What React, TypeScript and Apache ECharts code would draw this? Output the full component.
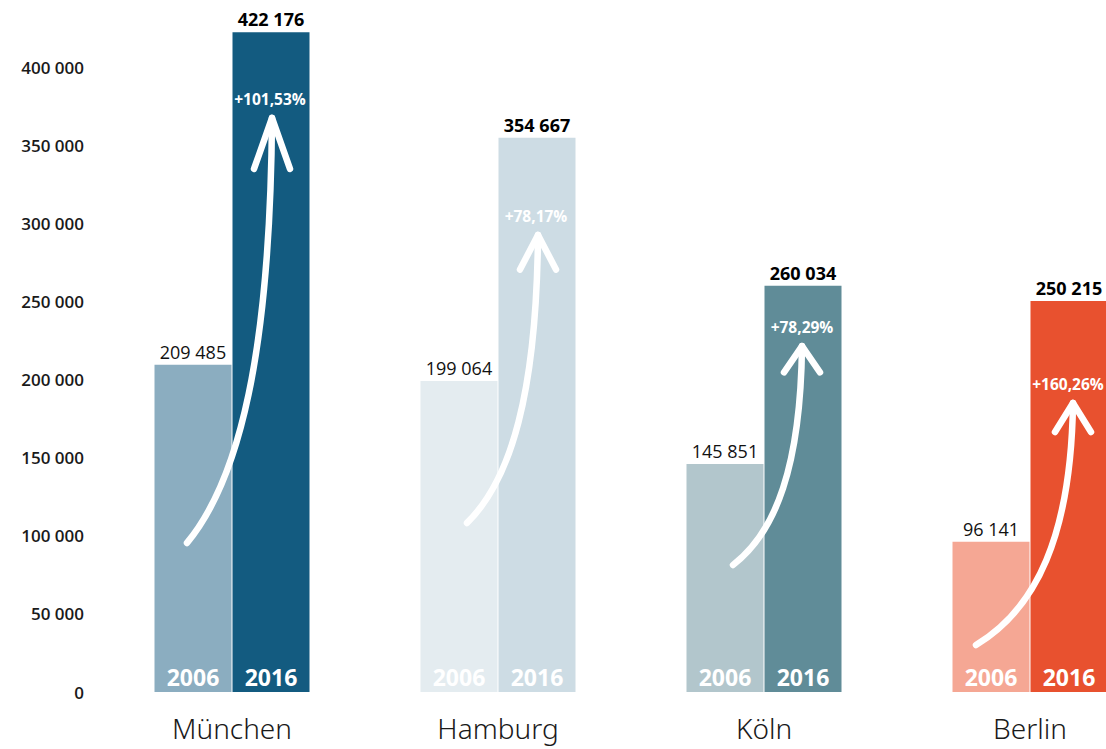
import React, { useEffect, useRef } from "react";
import * as echarts from "echarts";

const cities = ["München", "Hamburg", "Köln", "Berlin"];
const values2006 = [209485, 199064, 145851, 96141];
const values2016 = [422176, 354667, 260034, 250215];
const colors2006 = ["#8badc0", "#e4ecf0", "#b2c6cc", "#f5a794"];
const colors2016 = ["#135b80", "#cddce4", "#608c98", "#e8512f"];
// arrow start / tip heights in data units (decorative arrows)
const arrowStart = [95400, 108200, 81300, 30100];
const arrowTip = [367400, 292500, 221400, 185000];
const yTicks = [0, 50000, 100000, 150000, 200000, 250000, 300000, 350000, 400000];

const FONT = "'Open Sans', 'Noto Sans', sans-serif";

function fmt(v: number): string {
  return String(v).replace(/\B(?=(\d{3})+(?!\d))/g, " ");
}

function pct(a: number, b: number): string {
  return "+" + ((b / a - 1) * 100).toFixed(2).replace(".", ",") + "%";
}

export default function App() {
  const ref = useRef<HTMLDivElement>(null);
  useEffect(() => {
    if (!ref.current) return;
    const chart = echarts.init(ref.current, null, { renderer: "svg" });
    const customData = cities.map((_, i) => [i, values2006[i], values2016[i], arrowStart[i], arrowTip[i]]);
    const option: any = {
      animation: false,
      backgroundColor: "#ffffff",
      grid: {
        left: 99,
        width: 1064,
        top: 67,
        bottom: 57,
        containLabel: false,
        outerBoundsMode: "none",
      },
      xAxis: {
        type: "category",
        data: cities,
        axisLine: { show: false },
        axisTick: { show: false },
        axisLabel: {
          margin: 22,
          fontSize: 28,
          fontFamily: "'Noto Sans', sans-serif",
          fontWeight: 300,
          color: "#1a1a1a",
        },
      },
      yAxis: {
        type: "value",
        min: 0,
        max: 400000,
        interval: 50000,
        splitLine: { show: false },
        axisLine: { show: false },
        axisTick: { show: false },
        axisLabel: {
          margin: 15,
          fontSize: 17,
          fontFamily: FONT,
          fontWeight: 600,
          color: "#1a1a1a",
          formatter: (v: number) => (yTicks.includes(v) ? fmt(v) : ""),
        },
      },
      series: [
        {
          name: "2006",
          type: "bar",
          barWidth: 77,
          barGap: "1.3%",
          clip: false,
          data: values2006.map((v, i) => ({ value: v, itemStyle: { color: colors2006[i] } })),
          label: {
            show: true,
            position: "top",
            distance: 4,
            fontSize: 18,
            fontFamily: FONT,
            fontWeight: "normal",
            color: "#111",
            formatter: (p: any) => fmt(p.value),
          },
        },
        {
          name: "2016",
          type: "bar",
          barWidth: 77,
          barGap: "1.3%",
          clip: false,
          data: values2016.map((v, i) => ({ value: v, itemStyle: { color: colors2016[i] } })),
          label: {
            show: true,
            position: "top",
            distance: 4,
            fontSize: 18,
            fontFamily: FONT,
            fontWeight: "bold",
            color: "#000",
            formatter: (p: any) => fmt(p.value),
          },
        },
        {
          type: "custom",
          data: customData,
          encode: { x: 0, y: 1 },
          silent: true,
          z: 5,
          renderItem: (params: any, api: any) => {
            const i = api.value(0);
            const v06 = api.value(1);
            const v16 = api.value(2);
            const sV = api.value(3);
            const tV = api.value(4);
            const base = api.coord([i, 0]);
            const cx = base[0];
            const y0 = base[1];
            const band = api.size([1, 0])[0];
            const off = (band / 266) * 39;
            const startOffs = [-45, -31, -31, -54];
            const tipOffs = [40, 40, 38, 43];
            const sx = cx + startOffs[i];
            const sy = api.coord([i, sV])[1];
            const tx = cx + tipOffs[i];
            const ty = api.coord([i, tV])[1];
            const dx = tx - sx;
            const dy = sy - ty;
            const headLen = 0.12 * dy;
            const headW = 18;
            const lineStyle = {
              stroke: "#ffffff",
              lineWidth: 6.5,
              lineCap: "round",
              lineJoin: "round",
              fill: null,
            };
            return {
              type: "group",
              children: [
                {
                  type: "bezierCurve",
                  shape: {
                    x1: sx,
                    y1: sy,
                    cpx1: sx + 0.62 * dx,
                    cpy1: sy - 0.15 * dy,
                    cpx2: sx + 0.98 * dx,
                    cpy2: sy - 0.45 * dy,
                    x2: tx,
                    y2: ty,
                  },
                  style: lineStyle,
                },
                {
                  type: "polyline",
                  shape: {
                    points: [
                      [tx - headW, ty + headLen],
                      [tx, ty],
                      [tx + headW, ty + headLen],
                    ],
                  },
                  style: lineStyle,
                },
                {
                  type: "text",
                  style: {
                    text: pct(v06, v16),
                    x: cx + off - 1,
                    y: ty - 19,
                    align: "center",
                    verticalAlign: "middle",
                    fill: "#ffffff",
                    fontSize: 15.5,
                    fontWeight: "bold",
                    fontFamily: FONT,
                  },
                },
                {
                  type: "text",
                  style: {
                    text: "2006",
                    x: cx - off,
                    y: y0 - 15,
                    align: "center",
                    verticalAlign: "middle",
                    fill: "#ffffff",
                    fontSize: 23,
                    fontWeight: "bold",
                    fontFamily: FONT,
                  },
                },
                {
                  type: "text",
                  style: {
                    text: "2016",
                    x: cx + off,
                    y: y0 - 15,
                    align: "center",
                    verticalAlign: "middle",
                    fill: "#ffffff",
                    fontSize: 23,
                    fontWeight: "bold",
                    fontFamily: FONT,
                  },
                },
              ],
            };
          },
        },
      ],
    };
    chart.setOption(option);
    return () => chart.dispose();
  }, []);
  return (
    <div
      ref={ref}
      style={{ position: "absolute", left: 0, top: 0, width: 1106, height: 749 }}
    />
  );
}
